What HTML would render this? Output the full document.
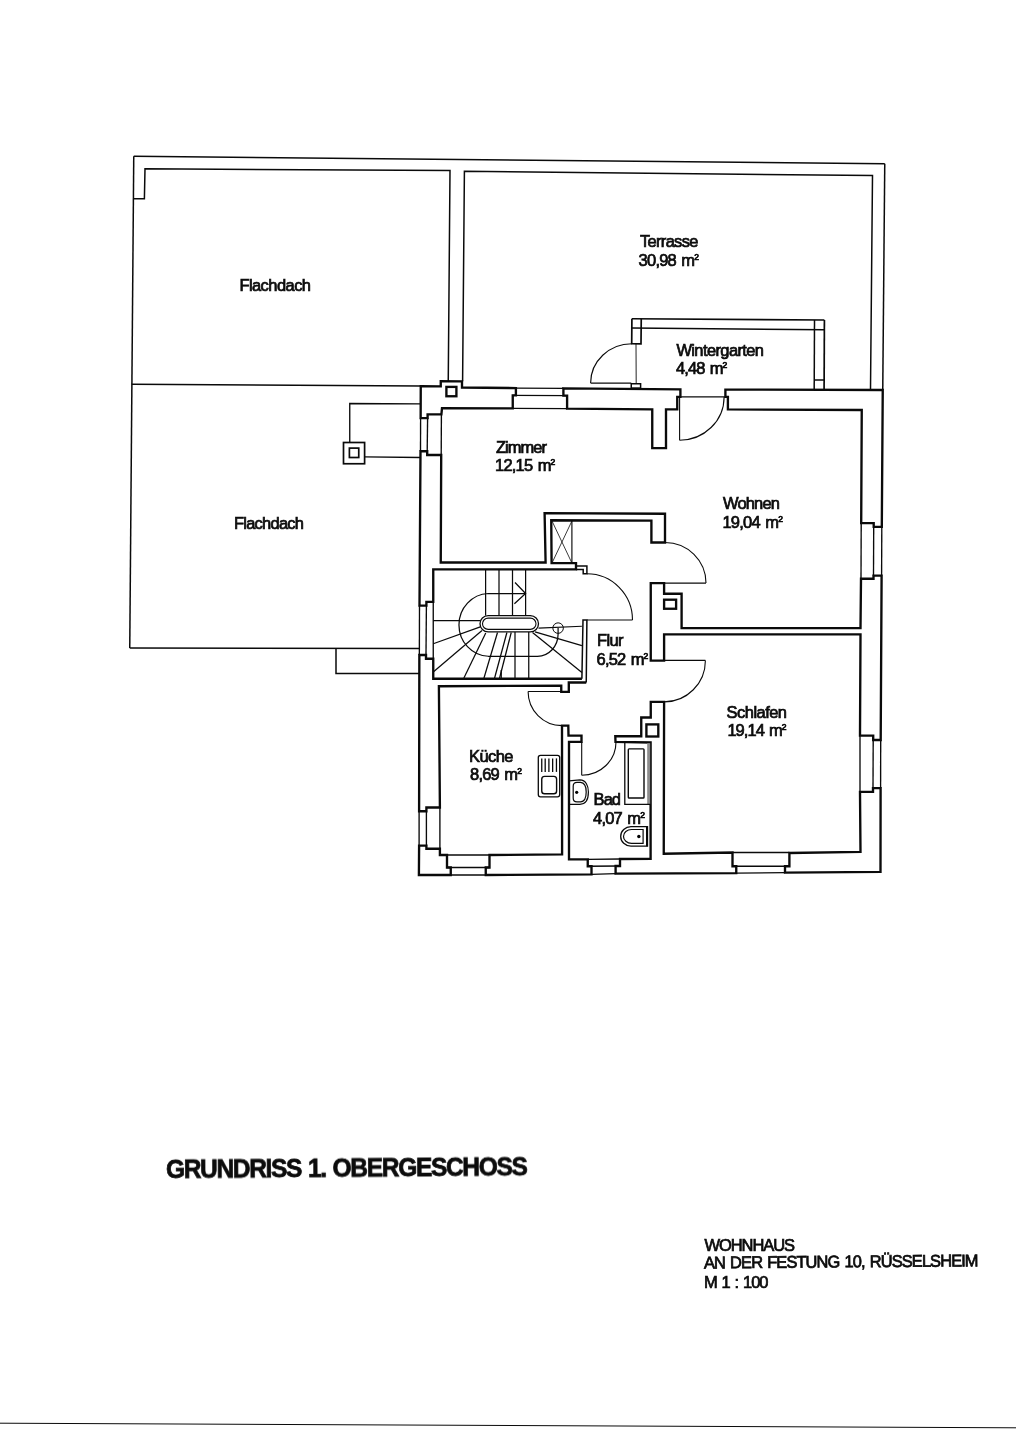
<!DOCTYPE html>
<html lang="de"><head><meta charset="utf-8"><title>Grundriss 1. Obergeschoss</title>
<style>
html,body{margin:0;padding:0;background:#fff;}
body{width:1016px;height:1440px;overflow:hidden;font-family:"Liberation Sans",sans-serif;}
svg{display:block;position:absolute;left:0;top:0;}
svg .g *{fill:none;stroke:#0a0a0a;stroke-linejoin:miter;stroke-linecap:butt;}
svg text{font-family:"Liberation Sans",sans-serif;fill:#0c0c0c;stroke:#0c0c0c;stroke-width:0.75px;}
</style></head><body>
<svg width="1016" height="1440" viewBox="0 0 1016 1440">
<rect x="0" y="0" width="1016" height="1440" fill="#ffffff"/>
<g class="g">
<line x1="133.75" y1="156.25" x2="884.75" y2="163.75" stroke-width="1.5"/>
<line x1="133.75" y1="156.25" x2="129.75" y2="648.1" stroke-width="1.5"/>
<line x1="129.75" y1="648.1" x2="419.3" y2="648.6" stroke-width="1.5"/>
<line x1="884.75" y1="163.75" x2="882.75" y2="390" stroke-width="1.5"/>
<polyline points="133.45,198.75 144.4,198.75 145,168.75 450,170.6 448.25,381.2" stroke-width="1.5"/>
<polyline points="462.6,381.3 464.4,171.25 872.5,175.6 870.5,389.8" stroke-width="1.5"/>
<line x1="131.9" y1="384.2" x2="420.7" y2="386.1" stroke-width="1.5"/>
<polyline points="336,648.5 336,673.5 419.2,673.4" stroke-width="1.5"/>
<polyline points="349.75,442.5 349.75,403.5 420.6,403.9" stroke-width="1.35"/>
<line x1="364.6" y1="456.9" x2="420.3" y2="457.5" stroke-width="1.35"/>
<rect x="343.5" y="442.5" width="21.1" height="21.25" stroke-width="1.7"/>
<rect x="349.4" y="448.1" width="9.35" height="9.4" stroke-width="1.7"/>
<line x1="631.9" y1="318.75" x2="824.4" y2="320" stroke-width="1.7"/>
<line x1="631.9" y1="328" x2="824.4" y2="329.75" stroke-width="1.5"/>
<polyline points="631.9,318.75 631.7,343.75 641,343.8 641.25,318.8" stroke-width="1.7"/>
<line x1="636" y1="343.75" x2="636.2" y2="383.75" stroke-width="0.9"/>
<rect x="631.25" y="383.75" width="9.35" height="4.35" stroke-width="1.5"/>
<polyline points="814.5,320 814.2,389.5" stroke-width="1.5"/>
<polyline points="824.4,320 824.1,389.6" stroke-width="1.7"/>
<line x1="814.2" y1="380" x2="824.1" y2="380" stroke-width="1.5"/>
<line x1="590.6" y1="383.1" x2="631.25" y2="383.1" stroke-width="1.15"/>
<path d="M631.9 343.75A41.3 39.4 0 0 0 590.6 383.1" stroke-width="1.15"/>
<polygon points="420.75,386.25 440.75,386.4 440.75,381.25 462,381.4 462,387.5 515.9,388.1 515.9,395.3 512.75,395.3 512.75,408.4 442,408.1 441.4,414.4 427.6,414.4 427.6,418.1 420.65,418.1" stroke-width="2.35"/>
<polygon points="563.4,388.3 680.4,389.4 680.4,396.9 677.25,396.9 677.25,409.4 666,409.4 666,448.1 652.25,448.1 652.25,409.4 567.1,408.6 567.1,395.6 563.4,395.6" stroke-width="2.35"/>
<polygon points="725.4,389.6 882.75,390 881.8,526.9 873.7,526.9 873.7,523.1 861.2,523.1 861.75,410 727.9,409.4 727.9,396.9 725.4,396.9" stroke-width="2.35"/>
<polygon points="881.6,575.6 873.5,575.6 873.5,578.75 861,578.75 860.5,628.1 681.6,628.1 681.6,593.75 664.1,593.75 664.1,583.1 650.75,583.1 650.75,660.6 664.1,660.6 664.1,634.4 860.5,634.4 860,735.6 873.2,735.6 873.2,740 880.7,740" stroke-width="2.35"/>
<polygon points="880.6,788.1 880.5,871.9 785,872.6 785,866.25 789.4,866.25 789.4,853 860.5,851.9 860,791.9 873,791.9 873,788.1" stroke-width="2.35"/>
<polygon points="736.25,873.1 615.6,873.6 615.6,866 620,866 620,859 650.6,858.75 650.6,742.5 615.5,741.9 615.3,736.25 641.25,736.25 641.25,717.5 650.75,717.5 650.75,701.9 664.1,701.9 663.75,853.75 732.5,852.5 732.5,866.25 736.25,866.25" stroke-width="2.35"/>
<polygon points="485.75,875 591.5,874.3 591.5,866.25 587.75,866.25 587.75,859.4 569,859.4 569,741.9 581.5,741.9 581.5,735.6 568.5,735.6 568.3,725.6 562,725.6 562.1,854.4 489.5,855 489.5,867.5 485.75,867.5" stroke-width="2.35"/>
<polygon points="450.75,875 418.9,875 419.1,845.6 426.4,845.6 426.4,848.75 439.9,848.75 439.9,855 447,855 447,867.5 450.75,867.5" stroke-width="2.35"/>
<polyline points="581.9,678.75 433.25,678.75 433.25,658.75 426,658.75 426,655 419.35,655 419.1,811.25 426.4,811.25 426.4,807.5 439.9,807.5 438.9,686.25 561.25,685.6 561.25,691.9 568.8,691.9 568.8,682.5 586.25,682.5" stroke-width="2.35"/>
<polyline points="586.25,682.5 586.9,620 583,620 581.9,678.75" stroke-width="1.5"/>
<polygon points="420.5,451.25 419.5,605.6 426.4,605.6 426.4,601.9 433.25,601.9 433.25,569.4 576,569.4 576,563.1 551.6,563.1 551.25,520.2 651.4,520.6 651.4,542.5 665,542.5 665,513.75 544.6,513.1 545.6,562.5 440.75,562.5 441.2,455 427.2,455 427.2,451.25" stroke-width="2.35"/>
<polyline points="576,566 586.9,566 586.9,573.75 583.2,573.75 583.2,569.6 576,569.4" stroke-width="1.5"/>
<rect x="446.4" y="386.9" width="10" height="9.35" stroke-width="2.35"/>
<rect x="664.1" y="599.7" width="12" height="9.05" stroke-width="2.35"/>
<rect x="646.4" y="724.4" width="11.9" height="12.1" stroke-width="2.35"/>
<line x1="420.6" y1="418.1" x2="420.5" y2="451.25" stroke-width="1.35"/>
<line x1="427.6" y1="418.1" x2="427.2" y2="451.25" stroke-width="1.35"/>
<line x1="441.4" y1="414.4" x2="441.2" y2="455" stroke-width="1.35"/>
<line x1="419.5" y1="605.6" x2="419.35" y2="655" stroke-width="1.35"/>
<line x1="426.4" y1="605.6" x2="426" y2="655" stroke-width="1.35"/>
<line x1="433.25" y1="601.9" x2="433.25" y2="658.75" stroke-width="1.35"/>
<line x1="419.1" y1="811.25" x2="419.1" y2="845.6" stroke-width="1.35"/>
<line x1="426.4" y1="811.25" x2="426.4" y2="845.6" stroke-width="1.35"/>
<line x1="439.9" y1="807.5" x2="439.9" y2="848.75" stroke-width="1.35"/>
<line x1="447" y1="855" x2="489.5" y2="855" stroke-width="1.35"/>
<line x1="447" y1="867.5" x2="489.5" y2="867.5" stroke-width="1.35"/>
<line x1="450.75" y1="875" x2="485.75" y2="875" stroke-width="1.35"/>
<line x1="587.75" y1="859.4" x2="620" y2="859" stroke-width="1.35"/>
<line x1="587.75" y1="866.25" x2="620" y2="866" stroke-width="1.35"/>
<line x1="591.5" y1="874.3" x2="615.6" y2="873.6" stroke-width="1.35"/>
<line x1="732.5" y1="852.5" x2="789.4" y2="852.5" stroke-width="1.35"/>
<line x1="732.5" y1="866.25" x2="789.4" y2="866.25" stroke-width="1.35"/>
<line x1="736.25" y1="873.1" x2="785" y2="872.6" stroke-width="1.35"/>
<line x1="880.7" y1="740" x2="880.6" y2="788.1" stroke-width="1.35"/>
<line x1="873.2" y1="740" x2="873" y2="788.1" stroke-width="1.35"/>
<line x1="860" y1="735.6" x2="860" y2="791.9" stroke-width="1.35"/>
<line x1="881.8" y1="526.9" x2="881.6" y2="575.6" stroke-width="1.35"/>
<line x1="873.7" y1="526.9" x2="873.5" y2="575.6" stroke-width="1.35"/>
<line x1="861.2" y1="523.1" x2="861" y2="578.75" stroke-width="1.35"/>
<line x1="515.9" y1="388.1" x2="563.4" y2="388.3" stroke-width="1.35"/>
<line x1="512.75" y1="395.4" x2="567.1" y2="395.6" stroke-width="1.35"/>
<line x1="512.75" y1="408.4" x2="567.1" y2="408.6" stroke-width="1.35"/>
<line x1="680.4" y1="396.9" x2="725.4" y2="396.9" stroke-width="1.1"/>
<line x1="679.6" y1="396.9" x2="679.6" y2="440.2" stroke-width="1.1"/>
<path d="M679.6 440.2A44.5 43.3 0 0 0 724.1 396.9" stroke-width="1.1"/>
<line x1="664.1" y1="583.1" x2="706" y2="583.1" stroke-width="1.1"/>
<path d="M665 542.5A41 40.6 0 0 1 706 583.1" stroke-width="1.1"/>
<line x1="664.1" y1="660.4" x2="705.4" y2="660.4" stroke-width="1.1"/>
<path d="M705.4 660.4A41.3 41.5 0 0 1 664.1 701.9" stroke-width="1.1"/>
<line x1="586.9" y1="620" x2="632.5" y2="620" stroke-width="1.1"/>
<path d="M586.9 573.75A45.6 46.25 0 0 1 632.5 620" stroke-width="1.1"/>
<line x1="528.1" y1="691.5" x2="561.25" y2="691.5" stroke-width="1.1"/>
<path d="M528.1 691.5A33.8 34.1 0 0 0 561.9 725.6" stroke-width="1.1"/>
<line x1="581.7" y1="741.9" x2="581.7" y2="775.3" stroke-width="1.1"/>
<path d="M581.7 775.3A34.3 33.4 0 0 0 616 741.9" stroke-width="1.1"/>
<line x1="571.9" y1="520.6" x2="571.9" y2="563.1" stroke-width="1.15"/>
<line x1="552" y1="521" x2="571.9" y2="563" stroke-width="0.8"/>
<line x1="571.9" y1="521" x2="552" y2="563" stroke-width="0.8"/>
<rect x="480" y="615.6" width="58.5" height="16.3" stroke-width="1.3" rx="8.15"/>
<rect x="482.5" y="618.1" width="53.5" height="11.3" stroke-width="1.1" rx="5.65"/>
<line x1="485.6" y1="569.4" x2="485.6" y2="615.6" stroke-width="1.25"/>
<line x1="499" y1="569.4" x2="499" y2="615.6" stroke-width="1.25"/>
<line x1="512.5" y1="569.4" x2="512.5" y2="615.6" stroke-width="1.25"/>
<line x1="525.6" y1="569.4" x2="525.6" y2="615.6" stroke-width="1.25"/>
<path d="M558.1 628.1L558.1 634A20.6 22.2 0 0 1 537.5 656.25L488.25 656.25A30.5 31.4 0 0 1 488.25 593.5L525.6 593.5" stroke-width="1.25"/>
<circle cx="558.1" cy="628.1" r="5.25" stroke-width="1"/>
<polyline points="515,582.5 525.6,593.5 514.4,603.75" stroke-width="1.25"/>
<line x1="433.25" y1="620.6" x2="480.1" y2="620.6" stroke-width="1.25"/>
<line x1="433.25" y1="643.75" x2="480.3" y2="626.9" stroke-width="1.25"/>
<line x1="433.25" y1="671.9" x2="482" y2="630.6" stroke-width="1.25"/>
<line x1="463.9" y1="678.1" x2="485.75" y2="633.1" stroke-width="1.25"/>
<line x1="483.75" y1="678.75" x2="497.5" y2="632.5" stroke-width="1.25"/>
<line x1="494.4" y1="678.75" x2="506.9" y2="632.5" stroke-width="1.25"/>
<line x1="499.4" y1="678.75" x2="511.25" y2="632.5" stroke-width="1.25"/>
<line x1="501.25" y1="670" x2="501.25" y2="678.75" stroke-width="1.25"/>
<line x1="515" y1="631.9" x2="515" y2="678.75" stroke-width="1.25"/>
<line x1="528.75" y1="631.9" x2="528.75" y2="678.75" stroke-width="1.25"/>
<line x1="538.5" y1="628.1" x2="581.9" y2="626.25" stroke-width="1.25"/>
<line x1="535" y1="631.9" x2="581.9" y2="645.6" stroke-width="1.25"/>
<line x1="532.5" y1="632.5" x2="581.9" y2="672.5" stroke-width="1.25"/>
<rect x="538.3" y="755.3" width="21.4" height="41.5" stroke-width="1.3" rx="2.2"/>
<line x1="541.75" y1="758.4" x2="541.75" y2="771.9" stroke-width="1.3"/>
<line x1="545.2" y1="758.4" x2="545.2" y2="771.9" stroke-width="1.3"/>
<line x1="548.9" y1="758.4" x2="548.9" y2="771.9" stroke-width="1.3"/>
<line x1="552.65" y1="758.4" x2="552.65" y2="771.9" stroke-width="1.3"/>
<line x1="556.45" y1="758.4" x2="556.45" y2="771.9" stroke-width="1.3"/>
<rect x="541.75" y="776.35" width="14.85" height="17.35" stroke-width="1.4" rx="2.8"/>
<path d="M569.2 780.8L579.9 779.9C586 779.9 588.4 786 588.4 792.1C588.4 799 586 804.3 579.9 804.3L569.2 804.4" stroke-width="1.2"/>
<path d="M573.2 786.2Q573.2 782.3 577 782.3L580.5 782.3C584.5 782.5 586.2 787 586.2 792C586.2 797 584.5 801.7 580.5 801.9L577 801.9Q573.2 801.9 573.2 798Z" stroke-width="1.2"/>
<circle cx="576.7" cy="792.3" r="1.6" style="fill:#000;stroke:none"/>
<rect x="647.2" y="743.2" width="3" height="61" style="fill:#8c8c8c;stroke:none"/>
<polyline points="624.8,742.6 624.8,804.3 650.3,804.3" stroke-width="1.3"/>
<rect x="628.3" y="748.9" width="15.7" height="49.1" stroke-width="1.4" rx="0.8"/>
<path d="M647.5 826.7L631 826.7A10.3 9.75 0 0 0 631 846.2L647.5 846.2Z" stroke-width="1.3"/>
<path d="M643.1 829.5L631.5 829.5A8 6.9 0 0 0 631.5 843.3L643.1 843.3Z" stroke-width="1.2"/>
<line x1="646.9" y1="826.7" x2="646.9" y2="846.2" stroke-width="1.8"/>
<circle cx="638.85" cy="836.5" r="1.7" style="fill:#000;stroke:none"/>
<line x1="0" y1="1423.2" x2="1016" y2="1427.8" stroke-width="1"/>
</g>
<g opacity="0.999">
<text font-size="17" word-spacing="1.5" textLength="73.81" lengthAdjust="spacing" transform="translate(239.4 290.6) scale(0.97 1)">Flachdach</text>
<text font-size="17" word-spacing="1.5" textLength="72.16" lengthAdjust="spacing" transform="translate(234 528.75) scale(0.97 1)">Flachdach</text>
<text font-size="17" word-spacing="1.5" textLength="60.21" lengthAdjust="spacing" transform="translate(640 247.25) scale(0.97 1)">Terrasse</text>
<text font-size="17" word-spacing="1.5" textLength="62.27" lengthAdjust="spacing" transform="translate(638.6 265.6) scale(0.97 1)">30,98 m<tspan font-size="8.84" dy="-5.95">2</tspan></text>
<text font-size="17" word-spacing="1.5" textLength="90.31" lengthAdjust="spacing" transform="translate(676.4 355.5) scale(0.97 1)">Wintergarten</text>
<text font-size="17" word-spacing="1.5" textLength="52.99" lengthAdjust="spacing" transform="translate(676 373.75) scale(0.97 1)">4,48 m<tspan font-size="8.84" dy="-5.95">2</tspan></text>
<text font-size="17" word-spacing="1.5" textLength="52.58" lengthAdjust="spacing" transform="translate(496 453) scale(0.97 1)">Zimmer</text>
<text font-size="17" word-spacing="1.5" textLength="62.27" lengthAdjust="spacing" transform="translate(495 471.25) scale(0.97 1)">12,15 m<tspan font-size="8.84" dy="-5.95">2</tspan></text>
<text font-size="17" word-spacing="1.5" textLength="58.76" lengthAdjust="spacing" transform="translate(723 509.4) scale(0.97 1)">Wohnen</text>
<text font-size="17" word-spacing="1.5" textLength="62.47" lengthAdjust="spacing" transform="translate(722.4 527.75) scale(0.97 1)">19,04 m<tspan font-size="8.84" dy="-5.95">2</tspan></text>
<text font-size="17" word-spacing="1.5" textLength="27.22" lengthAdjust="spacing" transform="translate(597 646.25) scale(0.97 1)">Flur</text>
<text font-size="17" word-spacing="1.5" textLength="53.4" lengthAdjust="spacing" transform="translate(596.6 664.75) scale(0.97 1)">6,52 m<tspan font-size="8.84" dy="-5.95">2</tspan></text>
<text font-size="17" word-spacing="1.5" textLength="62.27" lengthAdjust="spacing" transform="translate(726.6 717.75) scale(0.97 1)">Schlafen</text>
<text font-size="17" word-spacing="1.5" textLength="61.03" lengthAdjust="spacing" transform="translate(727.4 736.25) scale(0.97 1)">19,14 m<tspan font-size="8.84" dy="-5.95">2</tspan></text>
<text font-size="17" word-spacing="1.5" textLength="45.77" lengthAdjust="spacing" transform="translate(469 761.5) scale(0.97 1)">Küche</text>
<text font-size="17" word-spacing="1.5" textLength="53.61" lengthAdjust="spacing" transform="translate(470 779.75) scale(0.97 1)">8,69 m<tspan font-size="8.84" dy="-5.95">2</tspan></text>
<text font-size="17" word-spacing="1.5" textLength="28.25" lengthAdjust="spacing" transform="translate(593.6 805) scale(0.97 1)">Bad</text>
<text font-size="17" word-spacing="1.5" textLength="53.61" lengthAdjust="spacing" transform="translate(593 824) scale(0.97 1)">4,07 m<tspan font-size="8.84" dy="-5.95">2</tspan></text>
<text font-size="26.7" word-spacing="1.5" font-weight="bold" textLength="393.48" lengthAdjust="spacing" transform="translate(166 1178) rotate(-0.44) scale(0.92 1)">GRUNDRISS 1. OBERGESCHOSS</text>
<text font-size="17" word-spacing="1.5" textLength="93.2" lengthAdjust="spacing" transform="translate(704.6 1251.25) scale(0.97 1)">WOHNHAUS</text>
<text font-size="17" word-spacing="1.5" textLength="283.09" lengthAdjust="spacing" transform="translate(704 1268.5) rotate(-0.46) scale(0.97 1)">AN DER FESTUNG 10, RÜSSELSHEIM</text>
<text font-size="17" word-spacing="1.5" textLength="66.39" lengthAdjust="spacing" transform="translate(704 1287.5) scale(0.97 1)">M 1 : 100</text>
</g>
</svg>
</body></html>
